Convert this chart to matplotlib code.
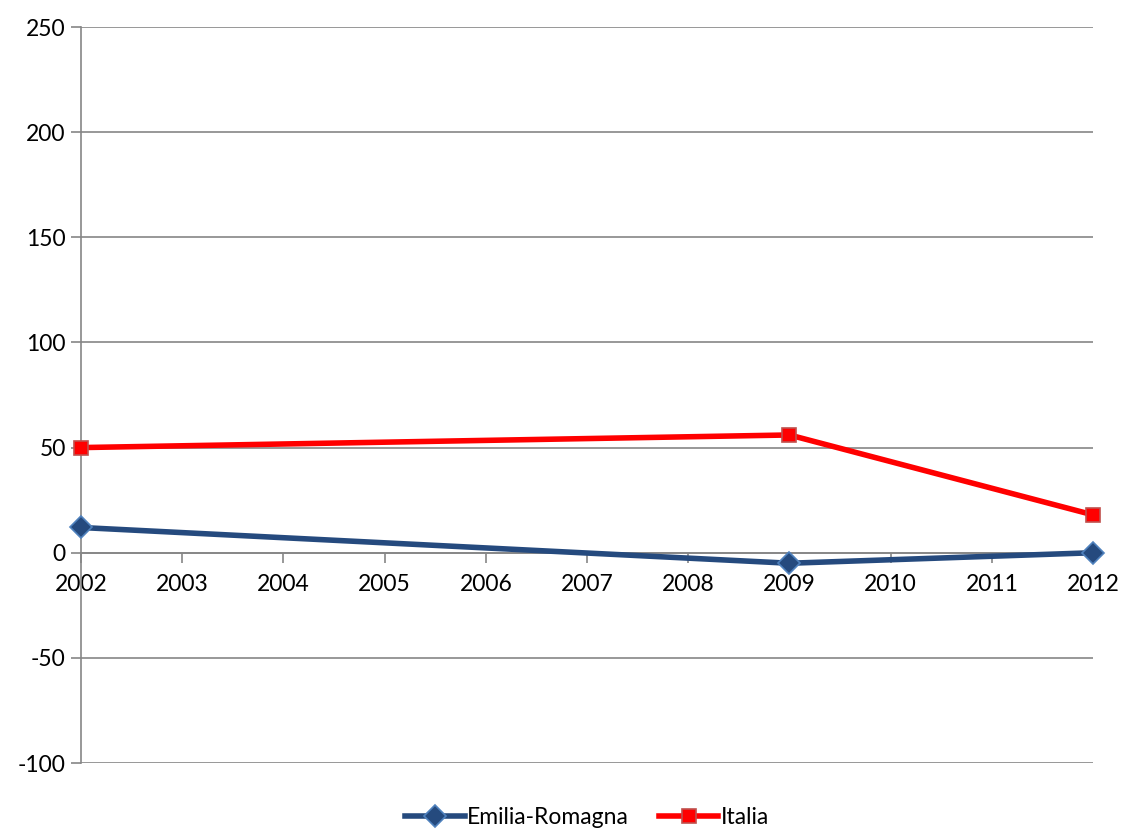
import matplotlib
matplotlib.use("Agg")
import matplotlib.pyplot as plt

years = [2002, 2009, 2012]
emilia = [12, -5, 0]
italia = [50, 56, 18]
year_ticks = list(range(2002, 2013))
y_ticks = [-100, -50, 0, 50, 100, 150, 200, 250]

plt.rcParams['font.family'] = ['Lato', 'DejaVu Sans']
plt.rcParams['axes.unicode_minus'] = False

fig = plt.figure(figsize=(11.25, 8.31), dpi=100)
ax = fig.add_axes([0.072, 0.0818, 0.8996, 0.8857])

ax.plot(years, emilia, color="#254A7E", lw=4, marker="D", markersize=11,
        markerfacecolor="#254A7E", markeredgecolor="#4F81BD", markeredgewidth=1.2,
        label="Emilia-Romagna", zorder=3, clip_on=False)
ax.plot(years, italia, color="#FF0000", lw=4, marker="s", markersize=10.5,
        markerfacecolor="#FF0000", markeredgecolor="#C0504D", markeredgewidth=1.2,
        label="Italia", zorder=3, clip_on=False)

ax.set_xlim(2002, 2012)
ax.set_ylim(-100, 250)
ax.set_xticks(year_ticks)
ax.set_yticks(y_ticks)
ax.grid(axis="y", color="#868686", lw=1.2)
ax.set_axisbelow(True)

for s in ["top", "right"]:
    ax.spines[s].set_visible(False)
ax.spines["bottom"].set_position(("data", 0))
ax.spines["bottom"].set_color("#868686")
ax.spines["left"].set_color("#868686")
ax.spines["bottom"].set_linewidth(1.2)
ax.spines["left"].set_linewidth(1.2)
ax.tick_params(axis="both", colors="#868686", labelcolor="black", labelsize=16.5,
               length=7, width=1.2)
ax.tick_params(axis="x", pad=8)
ax.tick_params(axis="y", pad=4)

ax.legend(loc="center", bbox_to_anchor=(0.5, -0.074), ncol=2, frameon=False,
          fontsize=16.5, handlelength=2.6, handletextpad=0.1, columnspacing=1.3)

fig.savefig("out.png", dpi=100)
